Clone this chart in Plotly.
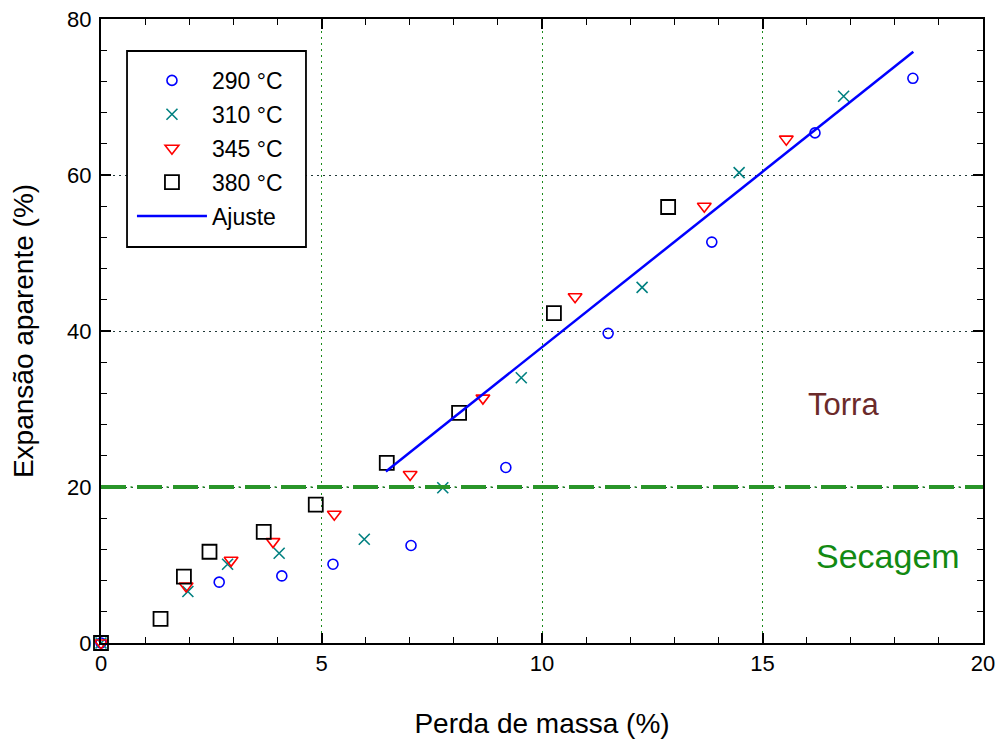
import plotly.graph_objects as go

# Data (Perda de massa %, Expansão aparente %)
x290 = [0, 2.68, 4.10, 5.26, 7.03, 9.18, 11.5, 13.85, 16.19, 18.41]
y290 = [0, 7.8, 8.6, 10.1, 12.5, 22.5, 39.7, 51.4, 65.4, 72.4]

x310 = [0, 1.97, 2.87, 4.04, 5.97, 7.75, 9.53, 12.27, 14.47, 16.84]
y310 = [0, 6.6, 10.1, 11.5, 13.3, 19.9, 34.0, 45.6, 60.3, 70.1]

x345 = [0, 1.93, 2.95, 3.90, 5.29, 7.01, 8.66, 10.75, 13.68, 15.54]
y345 = [0, 7.3, 10.6, 13.0, 16.5, 21.6, 31.4, 44.4, 56.0, 64.6]

x380 = [0, 1.35, 1.88, 2.46, 3.69, 4.87, 6.48, 8.12, 10.27, 12.86]
y380 = [0, 3.1, 8.5, 11.7, 14.25, 17.75, 23.1, 29.5, 42.3, 55.9]

fit_x = [6.46, 18.42]
fit_y = [22.0, 75.8]

series_names = ["290 °C", "310 °C", "345 °C", "380 °C", "Ajuste"]

FONT = "Liberation Sans, Arial, sans-serif"

fig = go.Figure()
fig.add_trace(go.Scatter(x=x290, y=y290, mode="markers", name=series_names[0],
                         legendgroup="a",
                         marker=dict(symbol="circle-open", size=10, color="#0000ff",
                                     line=dict(width=1.6, color="#0000ff")),
                         cliponaxis=False))
fig.add_trace(go.Scatter(x=x310, y=y310, mode="markers", name=series_names[1],
                         legendgroup="b",
                         marker=dict(symbol="x-thin-open", size=11, color="#008080",
                                     line=dict(width=1.6, color="#008080")),
                         cliponaxis=False))
fig.add_trace(go.Scatter(x=x345, y=y345, mode="markers", name=series_names[2],
                         legendgroup="c",
                         marker=dict(symbol="triangle-down-open", size=12, color="#ff0000",
                                     line=dict(width=1.6, color="#ff0000")),
                         cliponaxis=False))
fig.add_trace(go.Scatter(x=x380, y=y380, mode="markers", name=series_names[3],
                         legendgroup="d",
                         marker=dict(symbol="square-open", size=14, color="#000000",
                                     line=dict(width=1.8, color="#000000")),
                         cliponaxis=False))
fig.add_trace(go.Scatter(x=fit_x, y=fit_y, mode="lines", name=series_names[4],
                         legendgroup="e",
                         line=dict(color="#0000ff", width=2.5)))

# Division line between regions (thick dashes + thin dots)
fig.add_shape(type="line", xref="paper", x0=0, x1=1, yref="y", y0=20, y1=20,
              line=dict(color="#2a952a", width=4, dash="25px,11px"), layer="above")
fig.add_shape(type="line", xref="paper", x0=0, x1=1, yref="y", y0=20, y1=20,
              line=dict(color="#2a952a", width=1.3, dash="25px,4.5px,2px,4.5px"), layer="above")

# Legend frame
fig.add_shape(type="rect", xref="paper", yref="paper",
              x0=0.0295, x1=0.2324, y0=0.6346, y1=0.9487,
              fillcolor="white", line=dict(color="black", width=1.8), layer="above")

fig.add_annotation(x=16.83, y=30.6, text="Torra", showarrow=False,
                   font=dict(family=FONT, size=31, color="#6b2a2a"))
fig.add_annotation(x=17.85, y=11.2, text="Secagem", showarrow=False,
                   font=dict(family=FONT, size=34, color="#128a12"))

axis_common = dict(showline=True, linecolor="black", linewidth=2, mirror="allticks",
                   ticks="inside", ticklen=10, tickwidth=1.5, tickcolor="black",
                   zeroline=False, tickfont=dict(family=FONT, size=22, color="black"),
                   griddash="1.5px,4.5px", gridwidth=1.3, automargin=False)

fig.update_xaxes(range=[0, 20], dtick=5, tick0=0, showgrid=True, gridcolor="#1a8a1a",
                 minor=dict(dtick=1, ticks="inside", ticklen=6, tickwidth=1.2,
                            tickcolor="black", showgrid=False),
                 title=dict(text="Perda de massa (%)", font=dict(family=FONT, size=28, color="black"),
                            standoff=38),
                 **axis_common)
fig.update_yaxes(range=[0, 80], dtick=20, tick0=0, showgrid=True, gridcolor="#203838",
                 minor=dict(dtick=4, ticks="inside", ticklen=6, tickwidth=1.2,
                            tickcolor="black", showgrid=False),
                 title=dict(text="Expansão aparente (%)", font=dict(family=FONT, size=28, color="black"),
                            standoff=25),
                 ticklabelstandoff=3,
                 **axis_common)

fig.update_layout(
    width=1002, height=740,
    margin=dict(l=101, r=19, t=19, b=97),
    plot_bgcolor="white", paper_bgcolor="white",
    font=dict(family=FONT, color="black"),
    legend=dict(x=0.0351, y=0.936, xanchor="left", yanchor="top",
                borderwidth=0, bgcolor="rgba(0,0,0,0)",
                font=dict(family=FONT, size=23, color="black"),
                tracegroupgap=1, itemwidth=70),
    showlegend=True,
)

fig.write_html("out.html")
